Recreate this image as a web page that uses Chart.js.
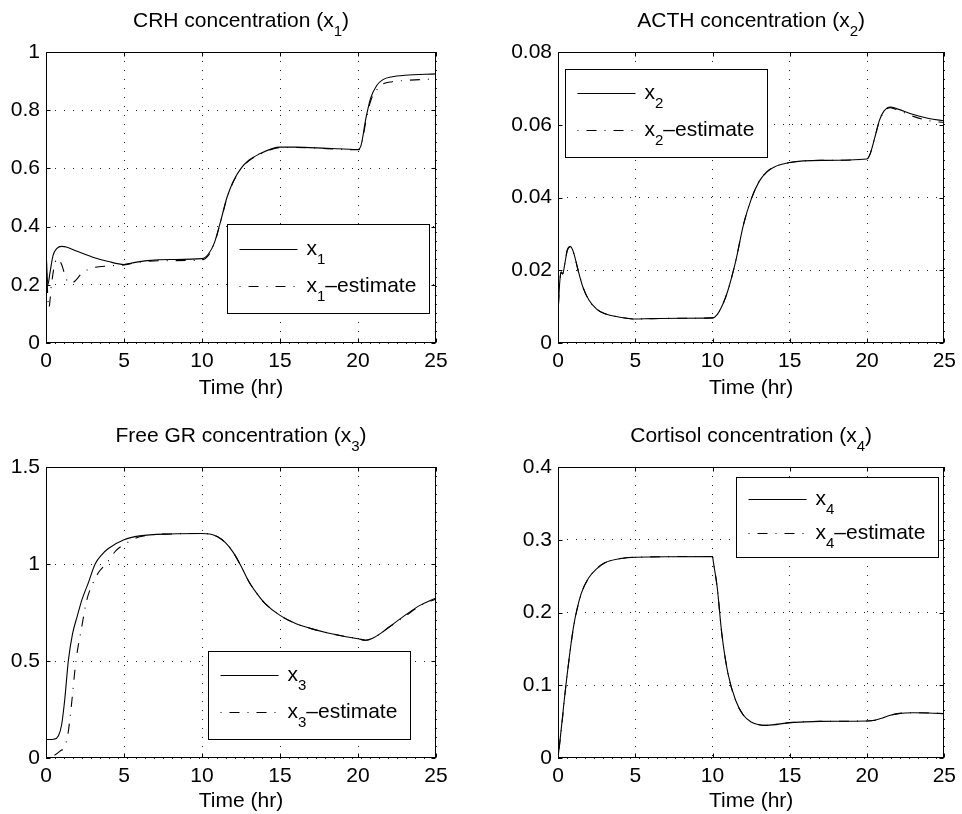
<!DOCTYPE html>
<html>
<head>
<meta charset="utf-8">
<title>HPA axis states and estimates</title>
<script src="https://cdn.jsdelivr.net/npm/chart.js@4.4.0/dist/chart.umd.min.js"></script>
<style>
  body { margin: 0; background: #fff; }
  #wrap { position: relative; width: 962px; height: 814px; overflow: hidden; }
  #wrap canvas { position: absolute; }
</style>
</head>
<body>
<div id="wrap">
  <canvas id="crhChart" width="481" height="407" style="left:0;top:0"></canvas>
  <canvas id="acthChart" width="481" height="407" style="left:481px;top:0"></canvas>
  <canvas id="grChart" width="481" height="407" style="left:0;top:407px"></canvas>
  <canvas id="cortChart" width="481" height="407" style="left:481px;top:407px"></canvas>
</div>
<script>
// --- data (time in hours) ---
const crhTime = [0, 0.05, 0.12, 0.25, 0.45, 0.7, 1.0, 1.3, 2, 3, 4, 5, 5.5, 6.5, 8, 10, 10.4, 10.8, 11.2, 11.6, 12, 12.5, 13, 13.7, 14.5, 15, 16, 18, 20, 20.2, 20.5, 20.8, 21.2, 21.6, 22.2, 23, 25];
const crh = [0.33, 0.26, 0.2, 0.24, 0.3, 0.325, 0.332, 0.33, 0.315, 0.295, 0.28, 0.27, 0.275, 0.283, 0.287, 0.29, 0.305, 0.345, 0.42, 0.5, 0.555, 0.6, 0.628, 0.65, 0.668, 0.673, 0.673, 0.669, 0.665, 0.68, 0.77, 0.84, 0.885, 0.905, 0.915, 0.92, 0.925];
const crhEstTime = [0, 0.08, 0.18, 0.35, 0.55, 0.75, 1.0, 1.3, 1.6, 1.9, 2.3, 3, 4, 5, 6, 8, 10, 10.4, 10.8, 11.2, 11.6, 12, 12.5, 13, 13.7, 14.5, 15, 16, 18, 20, 20.2, 20.5, 20.8, 21.2, 21.6, 22.2, 23, 25];
const crhEst = [0.33, 0.2, 0.12, 0.2, 0.27, 0.29, 0.27, 0.22, 0.205, 0.215, 0.24, 0.258, 0.265, 0.268, 0.278, 0.283, 0.285, 0.3, 0.343, 0.418, 0.498, 0.553, 0.598, 0.626, 0.648, 0.666, 0.671, 0.672, 0.668, 0.664, 0.675, 0.76, 0.83, 0.87, 0.89, 0.898, 0.902, 0.908];

const acthTime = [0, 0.1, 0.2, 0.3, 0.45, 0.6, 0.8, 1.0, 1.3, 1.6, 2, 2.5, 3, 4, 5, 6, 8, 10, 10.3, 10.7, 11, 11.5, 12, 12.5, 13, 13.5, 14, 15, 17, 20, 20.2, 20.5, 20.8, 21.1, 21.5, 22, 23, 24, 25];
const acth = [0.008, 0.016, 0.0195, 0.019, 0.022, 0.0255, 0.0265, 0.025, 0.02, 0.0155, 0.0118, 0.0093, 0.0081, 0.0071, 0.0066, 0.0067, 0.0068, 0.0069, 0.0078, 0.011, 0.0145, 0.0225, 0.0325, 0.0395, 0.0443, 0.047, 0.0484, 0.0496, 0.0502, 0.0506, 0.052, 0.0565, 0.0612, 0.0638, 0.0649, 0.0643, 0.0628, 0.0617, 0.0611];
const acthEst = [0.008, 0.016, 0.0195, 0.019, 0.022, 0.0255, 0.0265, 0.025, 0.02, 0.0155, 0.0118, 0.0093, 0.0081, 0.0071, 0.0066, 0.0067, 0.0068, 0.0069, 0.0078, 0.011, 0.0145, 0.0225, 0.0325, 0.0395, 0.0443, 0.047, 0.0484, 0.0496, 0.0502, 0.0506, 0.052, 0.0565, 0.061, 0.0636, 0.0647, 0.064, 0.0623, 0.0611, 0.0606];

const grTime = [0, 0.5, 0.8, 1.0, 1.2, 1.43, 1.7, 2.0, 2.3, 2.7, 3.15, 3.6, 4, 5, 6, 8, 10, 10.5, 11, 11.5, 12, 12.5, 13, 13.5, 14, 15, 16, 17, 18, 19, 20, 20.5, 21, 21.5, 22, 23, 24, 25];
const gr = [0.095, 0.097, 0.115, 0.17, 0.3, 0.5, 0.64, 0.73, 0.815, 0.9, 1.0, 1.05, 1.08, 1.125, 1.145, 1.155, 1.157, 1.155, 1.14, 1.11, 1.06, 0.99, 0.91, 0.85, 0.8, 0.735, 0.693, 0.667, 0.646, 0.629, 0.615, 0.607, 0.62, 0.645, 0.675, 0.735, 0.788, 0.825];
const grEstTime = [0, 0.5, 0.9, 1.2, 1.4, 1.6, 1.92, 2.3, 2.6, 3.0, 3.4, 3.84, 4.5, 5, 6, 8, 10, 10.5, 11, 11.5, 12, 12.5, 13, 13.5, 14, 15, 16, 17, 18, 19, 20, 20.5, 21, 21.5, 22, 23, 24, 25];
const grEst = [0, 0.012, 0.035, 0.06, 0.12, 0.25, 0.5, 0.68, 0.81, 0.9, 0.96, 1.0, 1.07, 1.1, 1.14, 1.155, 1.157, 1.155, 1.14, 1.11, 1.06, 0.99, 0.91, 0.85, 0.8, 0.735, 0.693, 0.667, 0.646, 0.629, 0.615, 0.607, 0.62, 0.645, 0.675, 0.73, 0.785, 0.82];

const cortTime = [0, 0.2, 0.5, 1, 1.5, 2, 2.5, 3, 4, 5, 10, 10.05, 10.3, 10.6, 11, 11.5, 12, 12.5, 13, 13.5, 15, 17, 20, 20.5, 21, 21.5, 22, 23, 24, 25];
const cort = [0, 0.038, 0.098, 0.18, 0.226, 0.248, 0.26, 0.268, 0.274, 0.276, 0.277, 0.27, 0.235, 0.171, 0.116, 0.079, 0.0587, 0.0495, 0.0458, 0.0449, 0.0486, 0.0504, 0.0509, 0.052, 0.055, 0.0587, 0.061, 0.0623, 0.0619, 0.061];
const cortEst = [0, 0.036, 0.097, 0.179, 0.225, 0.248, 0.26, 0.268, 0.274, 0.276, 0.277, 0.27, 0.235, 0.171, 0.116, 0.079, 0.0587, 0.0495, 0.0458, 0.0449, 0.0486, 0.0504, 0.0509, 0.052, 0.055, 0.0587, 0.061, 0.0623, 0.0619, 0.061];

const FONT = '"Liberation Sans", Arial, Helvetica, sans-serif';
const FONT_SIZE = 21;
const DASH_DOT = [1, 8, 10, 8];
const GRID_DOTS = [1, 8];

function pairs(t, v) {
  return t.map((x, i) => ({ x: x, y: v[i] }));
}

// matlab prints 1 and 0.5, not 1.0
function plainTick(v) {
  return String(parseFloat(Number(v).toFixed(4)));
}

// draws text pieces, some of them as subscripts, starting at x
function richText(ctx, parts, x, y, align) {
  const big = FONT_SIZE + 'px ' + FONT, small = '15px ' + FONT;
  let w = 0;
  parts.forEach((p) => {
    ctx.font = p.sub ? small : big;
    w += ctx.measureText(p.text).width;
  });
  let cx = align === 'center' ? x - w / 2 : x;
  ctx.textAlign = 'left';
  ctx.textBaseline = 'alphabetic';
  parts.forEach((p) => {
    ctx.font = p.sub ? small : big;
    ctx.fillText(p.text, cx, p.sub ? y + 9 : y);
    cx += ctx.measureText(p.text).width;
  });
}

// matlab-like axes box, inward ticks, title and boxed legend
const matlabBox = {
  id: 'matlabBox',
  afterDraw(chart, args, opts) {
    const { ctx, chartArea: a } = chart;
    const xs = chart.scales.x, ys = chart.scales.y;
    const L = Math.round(a.left) + 0.5, R = Math.round(a.right) - 0.5;
    const T = Math.round(a.top) + 0.5, B = Math.round(a.bottom) - 0.5;
    ctx.save();
    ctx.strokeStyle = '#000';
    ctx.lineWidth = 1;
    ctx.setLineDash([]);
    ctx.beginPath();
    xs.ticks.forEach((t) => {
      const p = Math.round(xs.getPixelForValue(t.value)) + 0.5;
      ctx.moveTo(p, B); ctx.lineTo(p, B - 4);
      ctx.moveTo(p, T); ctx.lineTo(p, T + 4);
    });
    ys.ticks.forEach((t) => {
      const p = Math.round(ys.getPixelForValue(t.value)) + 0.5;
      ctx.moveTo(L, p); ctx.lineTo(L + 4, p);
      ctx.moveTo(R, p); ctx.lineTo(R - 4, p);
    });
    ctx.stroke();
    ctx.strokeRect(L, T, R - L, B - T);

    ctx.fillStyle = '#000';
    richText(ctx, [{ text: opts.title }, { text: opts.sub, sub: true }, { text: ')' }],
      (a.left + a.right) / 2, a.top - 25, 'center');

    // legend
    const bx = Math.round(a.left + opts.box.x) + 0.5, by = Math.round(a.top + opts.box.y) + 0.5;
    const bw = opts.box.w, bh = opts.box.h;
    ctx.fillStyle = '#fff';
    ctx.fillRect(bx, by, bw, bh);
    ctx.strokeRect(bx, by, bw, bh);
    const rows = [by + bh * 0.27, by + bh * 0.69];
    chart.data.datasets.forEach((ds, i) => {
      const ry = Math.round(rows[i]) + 0.5;
      ctx.setLineDash(ds.borderDash || []);
      ctx.beginPath();
      ctx.moveTo(bx + 12, ry);
      ctx.lineTo(bx + 70, ry);
      ctx.stroke();
      ctx.setLineDash([]);
      ctx.fillStyle = '#000';
      const parts = [{ text: 'x' }, { text: opts.sub, sub: true }];
      if (i === 1) parts.push({ text: '\u2013estimate' });
      richText(ctx, parts, bx + 79, ry + 5, 'left');
    });
    ctx.restore();
  }
};

function makePanel(id, cfg) {
  const tickFont = { family: FONT, size: FONT_SIZE };
  new Chart(document.getElementById(id), {
    type: 'line',
    data: {
      datasets: [
        {
          label: 'x' + cfg.sub,
          data: pairs(cfg.t, cfg.y),
          borderColor: '#000',
          borderWidth: 1.1,
          pointRadius: 0,
          cubicInterpolationMode: 'monotone',
        },
        {
          label: 'x' + cfg.sub + '-estimate',
          data: pairs(cfg.tEst, cfg.yEst),
          borderColor: '#000',
          borderWidth: 1.1,
          borderDash: DASH_DOT,
          pointRadius: 0,
          cubicInterpolationMode: 'monotone',
        },
      ],
    },
    options: {
      responsive: false,
      animation: false,
      events: [],
      layout: { padding: { top: cfg.top, right: cfg.right, left: 0, bottom: 0 } },
      plugins: {
        legend: { display: false },
        tooltip: { enabled: false },
        matlabBox: { title: cfg.title, sub: cfg.sub, box: cfg.box },
      },
      scales: {
        x: {
          type: 'linear',
          min: 0,
          max: 25,
          ticks: { stepSize: 5, padding: 6, color: '#000', font: tickFont, maxRotation: 0, callback: plainTick },
          grid: { color: '#222', lineWidth: 1, drawTicks: false },
          border: { display: false, dash: GRID_DOTS },
          title: { display: true, text: 'Time (hr)', color: '#000', font: tickFont, padding: { top: 0, bottom: cfg.titlePad } },
          afterFit: (s) => { s.height = cfg.xHeight; },
        },
        y: {
          min: 0,
          max: cfg.ymax,
          ticks: { stepSize: cfg.ystep, padding: 6, color: '#000', font: tickFont, callback: plainTick },
          grid: { color: '#222', lineWidth: 1, drawTicks: false },
          border: { display: false, dash: GRID_DOTS },
          afterFit: (s) => { s.width = cfg.yWidth; },
        },
      },
    },
    plugins: [matlabBox],
  });
}

makePanel('crhChart', {
  title: 'CRH concentration (x', sub: '1',
  t: crhTime, y: crh, tEst: crhEstTime, yEst: crhEst,
  ymax: 1, ystep: 0.2,
  top: 52, right: 45, yWidth: 46, xHeight: 64, titlePad: 6,
  box: { x: 181, y: 172, w: 202, h: 89 },
});

makePanel('acthChart', {
  title: 'ACTH concentration (x', sub: '2',
  t: acthTime, y: acth, tEst: acthTime, yEst: acthEst,
  ymax: 0.08, ystep: 0.02,
  top: 52, right: 13, yWidth: 77, xHeight: 64, titlePad: 6,
  box: { x: 7, y: 17, w: 202, h: 88 },
});

makePanel('grChart', {
  title: 'Free GR concentration (x', sub: '3',
  t: grTime, y: gr, tEst: grEstTime, yEst: grEst,
  ymax: 1.5, ystep: 0.5,
  top: 60, right: 45, yWidth: 46, xHeight: 56, titlePad: 0,
  box: { x: 162, y: 184, w: 202, h: 88 },
});

makePanel('cortChart', {
  title: 'Cortisol concentration (x', sub: '4',
  t: cortTime, y: cort, tEst: cortTime, yEst: cortEst,
  ymax: 0.4, ystep: 0.1,
  top: 60, right: 13, yWidth: 77, xHeight: 56, titlePad: 0,
  box: { x: 178, y: 10, w: 202, h: 80 },
});
</script>
</body>
</html>
